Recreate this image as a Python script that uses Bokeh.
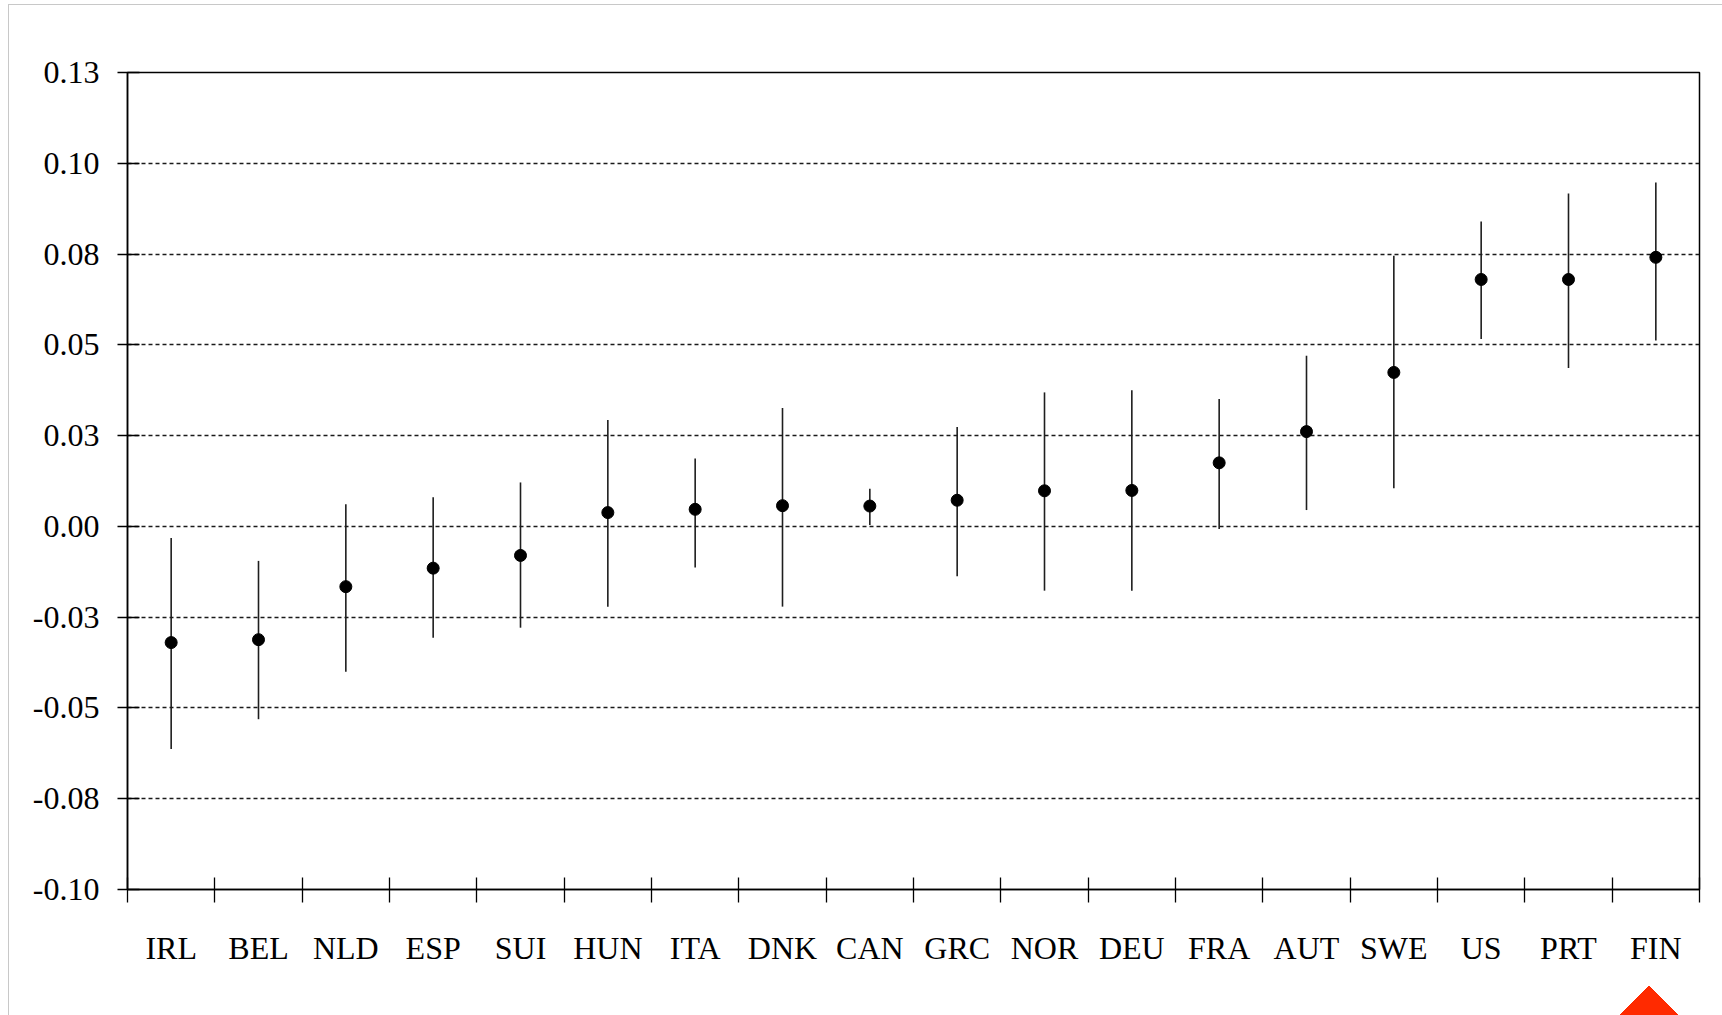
from bokeh.plotting import figure
from bokeh.models import ColumnDataSource, Range1d, FixedTicker
from bokeh.embed import file_html
from bokeh.resources import INLINE

# Country estimates with their confidence bounds
countries = ["IRL", "BEL", "NLD", "ESP", "SUI", "HUN", "ITA", "DNK", "CAN",
             "GRC", "NOR", "DEU", "FRA", "AUT", "SWE", "US", "PRT", "FIN"]
estimate = [-0.0320, -0.0312, -0.0166, -0.0115, -0.0080, 0.0038, 0.0047, 0.0057, 0.0056,
            0.0072, 0.0098, 0.0099, 0.0175, 0.0261, 0.0424, 0.0680, 0.0680, 0.0741]
lower = [-0.0613, -0.0531, -0.0400, -0.0307, -0.0279, -0.0221, -0.0113, -0.0221, 0.0004,
         -0.0137, -0.0177, -0.0177, -0.0007, 0.0045, 0.0105, 0.0516, 0.0436, 0.0512]
upper = [-0.0032, -0.0095, 0.0061, 0.0080, 0.0121, 0.0293, 0.0187, 0.0326, 0.0104,
         0.0274, 0.0369, 0.0375, 0.0351, 0.0470, 0.0745, 0.0840, 0.0917, 0.0947]

y_ticks = [-0.1, -0.075, -0.05, -0.025, 0.0, 0.025, 0.05, 0.075, 0.1, 0.125]
y_tick_labels = ["-0.10", "-0.08", "-0.05", "-0.03", "0.00", "0.03", "0.05", "0.08", "0.10", "0.13"]

pos = [i + 0.5 for i in range(len(countries))]
src = ColumnDataSource(dict(x=pos, est=estimate, lo=lower, hi=upper, name=countries))

FONT = "Liberation Serif"

p = figure(width=1722, height=1015, output_backend="svg", toolbar_location=None,
           x_range=Range1d(0, len(countries)), y_range=Range1d(-0.1, 0.125),
           min_border_left=127, min_border_right=23, min_border_top=72, min_border_bottom=126,
           background_fill_color="white", border_fill_color=None)

# page edge lines and the corner marker, painted behind the transparent canvas
p.styles = {
    "background": (
        "conic-gradient(from 135deg at 1649px 985px, #ff2a00 0deg 90deg, rgba(0,0,0,0) 90deg 360deg), "
        "linear-gradient(#c8c8c8, #c8c8c8) 8px 4px / 1px 100% no-repeat, "
        "linear-gradient(#c8c8c8, #c8c8c8) 8px 4px / 100% 1px no-repeat, "
        "#ffffff"
    )
}

p.outline_line_color = "black"
p.outline_line_width = 1.5
p.outline_line_alpha = 1.0

# interval whiskers and point estimates
p.segment(x0="x", y0="lo", x1="x", y1="hi", source=src, line_color="#1e1e1e", line_width=1.6)
p.scatter(x="x", y="est", source=src, size=12, fill_color="black", line_color="black")

# x axis: labels under each country, tick marks on the boundaries
xa = p.xaxis[0]
xa.ticker = FixedTicker(ticks=pos, minor_ticks=list(range(len(countries) + 1)))
xa.major_label_overrides = {x: c for x, c in zip(pos, countries)}
xa.major_tick_in = 0
xa.major_tick_out = 0
xa.minor_tick_in = 12
xa.minor_tick_out = 13
xa.minor_tick_line_color = "black"
xa.minor_tick_line_width = 1.3
xa.axis_line_color = "black"
xa.axis_line_width = 1.5
xa.major_label_text_font = FONT
xa.major_label_text_font_size = "32px"
xa.major_label_text_color = "black"
xa.major_label_standoff = 27

ya = p.yaxis[0]
ya.ticker = FixedTicker(ticks=y_ticks)
ya.major_label_overrides = {t: s for t, s in zip(y_ticks, y_tick_labels)}
ya.minor_tick_line_color = None
ya.major_tick_in = 12
ya.major_tick_out = 10
ya.major_tick_line_color = "black"
ya.major_tick_line_width = 1.3
ya.axis_line_color = "black"
ya.axis_line_width = 1.5
ya.major_label_text_font = FONT
ya.major_label_text_font_size = "32px"
ya.major_label_text_color = "black"
ya.major_label_standoff = 18

p.xgrid.grid_line_color = None
p.ygrid.grid_line_color = "#1a1a1a"
p.ygrid.grid_line_width = 1.3
p.ygrid.grid_line_dash = "4 3"

open("out.html", "w").write(file_html(p, INLINE))
